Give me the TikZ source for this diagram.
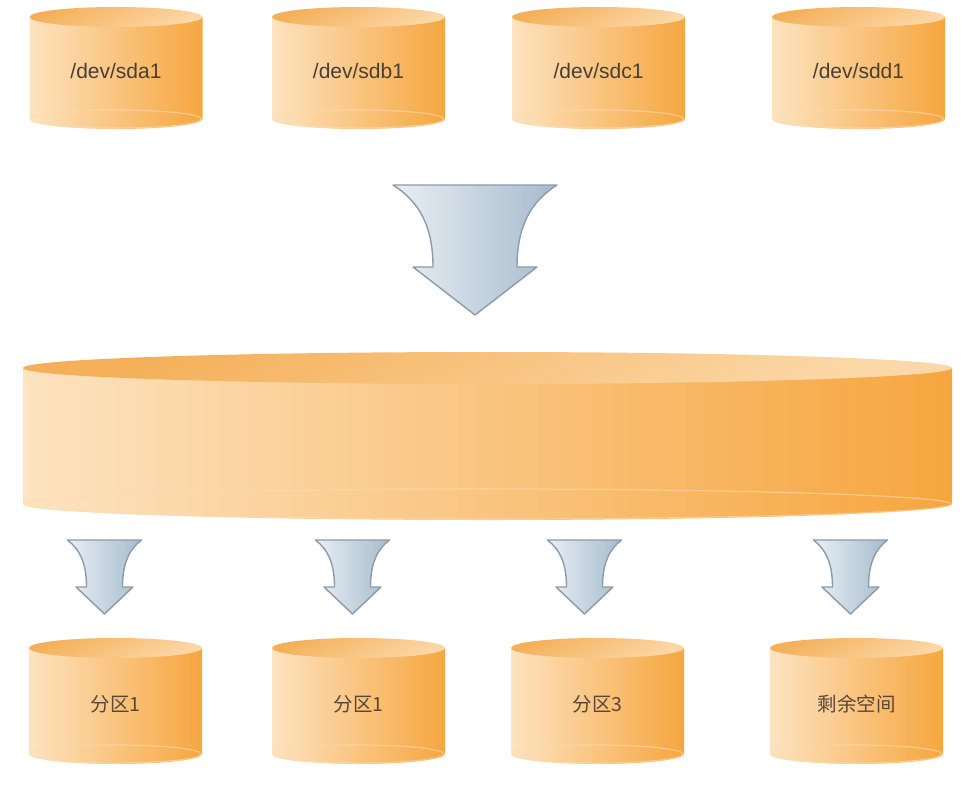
\documentclass[tikz,border=0pt]{standalone}
\usepackage{fontspec}
\newfontfamily\latfont{Liberation Sans}
\newfontfamily\cjkfont{Noto Sans CJK SC}
\definecolor{cylL}{HTML}{FDE3C0}
\definecolor{cylR}{HTML}{F6A63F}
\definecolor{topD}{HTML}{F4AF58}
\definecolor{topL}{HTML}{FCD8A8}
\definecolor{cylEdge}{HTML}{FADCB2}
\definecolor{arrL}{HTML}{E9EFF5}
\definecolor{arrR}{HTML}{A6BBCC}
\definecolor{arrEdge}{HTML}{8C9BA8}
\definecolor{devtext}{HTML}{4A3F35}
\definecolor{cjktext}{HTML}{5A4636}
\tikzset{
  devlabel/.style={font=\latfont\fontsize{21}{24}\selectfont, text=devtext, inner sep=0pt},
  cjklabel/.style={font=\cjkfont\fontsize{19.5}{22}\selectfont, text=cjktext, inner sep=0pt},
  cylbody/.style={left color=cylL, right color=cylR},
  cyltop/.style={top color=topD, bottom color=topL, shading angle=25},
  cylbottom/.style={draw=cylEdge, line width=1.2pt, opacity=.6},
  blockarrow/.style={left color=arrL, right color=arrR, draw=arrEdge, line width=1.4pt, line join=round},
}
% #1 name, #2 cx, #3 top, #4 bottom, #5 width, #6 ry, #7 label style, #8 text
\newcommand\drawcyl[8]{%
  \shade[cylbody] ({#2-#5/2},{-(#3+#6)}) -- ({#2-#5/2},{-(#4-#6)})
     arc[start angle=180,end angle=360,x radius={#5/2},y radius=#6]
     -- ({#2+#5/2},{-(#3+#6)}) -- cycle;
  \draw[cylbottom] (#2,{-(#4-#6)}) ellipse[x radius={#5/2-1},y radius={#6-1}];
  \shade[cyltop] (#2,{-(#3+#6)}) ellipse[x radius={#5/2},y radius=#6];
  \node[#7, minimum width=#5, minimum height={#4-#3}] (#1) at (#2,{-(#3+#4)/2-3}) {#8};
}
% #1 cx, #2 top y, #3 half top, #4 neck y, #5 neck half, #6 barb half, #7 tip y
\newcommand\drawarrow[7]{%
  \path[blockarrow] ({#1-#3},{-#2}) -- ({#1+#3},{-#2})
     .. controls ({#1+#5+(#3-#5)*0.35},{-(#2+(#4-#2)*0.2)}) and ({#1+#5},{-(#2+(#4-#2)*0.5)}) .. ({#1+#5},{-#4})
     -- ({#1+#6},{-#4}) -- (#1,{-#7}) -- ({#1-#6},{-#4}) -- ({#1-#5},{-#4})
     .. controls ({#1-#5},{-(#2+(#4-#2)*0.5)}) and ({#1-#5-(#3-#5)*0.35},{-(#2+(#4-#2)*0.2)}) .. ({#1-#3},{-#2}) -- cycle;
}
\begin{document}
\begin{tikzpicture}[x=1pt,y=1pt]
\useasboundingbox (0,0) rectangle (966,-798);
\fill[white] (0,0) rectangle (966,-798);
% top disks
\drawcyl{sda}{116}{7}{129}{173}{10}{devlabel}{/dev/sda1}
\drawcyl{sdb}{358.5}{7}{129}{173}{10}{devlabel}{/dev/sdb1}
\drawcyl{sdc}{598.5}{7}{129}{173}{10}{devlabel}{/dev/sdc1}
\drawcyl{sdd}{858.5}{7}{129}{173}{10}{devlabel}{/dev/sdd1}
% big arrow
\drawarrow{475}{185}{82}{267}{42}{62}{315}
% volume group
\drawcyl{vg}{487.5}{352}{520}{929}{16}{devlabel}{}
% small arrows
\drawarrow{104.5}{540}{37}{587}{18}{28.5}{614}
\drawarrow{352.5}{540}{37}{587}{18}{28.5}{614}
\drawarrow{584.5}{540}{37}{587}{18}{28.5}{614}
\drawarrow{850.5}{540}{37}{587}{18}{28.5}{614}
% partitions
\drawcyl{p1}{115.5}{638}{764}{173}{10}{cjklabel}{分区1}
\drawcyl{p2}{358.5}{638}{764}{173}{10}{cjklabel}{分区1}
\drawcyl{p3}{597.5}{638}{764}{173}{10}{cjklabel}{分区3}
\drawcyl{p4}{856.5}{638}{764}{173}{10}{cjklabel}{剩余空间}
\end{tikzpicture}
\end{document}
